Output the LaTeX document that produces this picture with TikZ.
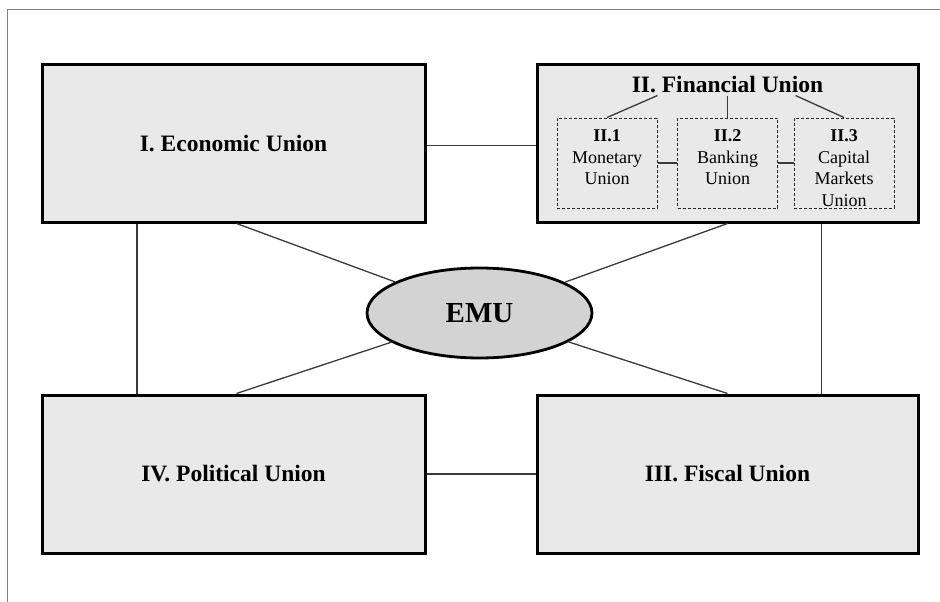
\documentclass[tikz,border=0pt]{standalone}
\usepackage{fontspec}
\setmainfont{Liberation Serif}
\usetikzlibrary{shapes.geometric,calc}
\definecolor{boxfill}{HTML}{E9E9E9}
\definecolor{emufill}{HTML}{D3D3D3}
\definecolor{linkgray}{HTML}{3A3A3A}
\definecolor{framegray}{HTML}{808080}
\begin{document}
\begin{tikzpicture}[x=1pt,y=-1pt,
  unionbox/.style={draw=black, line width=3pt, fill=boxfill,
    minimum width=383pt, minimum height=157pt, inner sep=0pt,
    font=\fontsize{23.5}{28}\selectfont\bfseries},
  subbox/.style={draw=black!85, dash pattern=on 3pt off 2pt, line width=1pt,
    minimum width=100pt, minimum height=90pt, inner sep=0pt},
  subtext/.style={anchor=north, inner sep=0pt, align=center,
    font=\fontsize{18}{21.5}\selectfont},
  link/.style={draw=linkgray, line width=1.3pt},
]
\useasboundingbox (0,0) rectangle (940,602);

% outer frame (top and left edges only)
\draw[framegray, line width=1.3pt] (7.5,602) -- (7.5,9.5) -- (940,9.5);

% the four unions
\node[unionbox] (I) at (233.5,143.5) {I. Economic Union};
\node[unionbox, minimum width=381pt] (II) at (727.5,143.5) {};
\node[unionbox, minimum width=381pt, minimum height=158pt] (III) at (727.5,474) {III. Fiscal Union};
\node[unionbox, minimum height=158pt] (IV) at (233.5,474) {IV. Political Union};

% central ellipse
\node[ellipse, draw=black, line width=2.8pt, fill=emufill,
  minimum width=225pt, minimum height=90pt, inner sep=0pt,
  font=\fontsize{29}{34}\selectfont\bfseries] (EMU) at (479.5,313) {EMU};

% financial union contents
\node[inner sep=0pt, font=\fontsize{23.5}{28}\selectfont\bfseries] (FT) at (727.5,85) {II. Financial Union};
\node[subbox] (S1) at (607,163) {};
\node[subbox] (S2) at (727.5,163) {};
\node[subbox] (S3) at (844,163) {};
\node[subtext] (S1t) at ($(S1.north)+(0,12)$) {\textbf{II.1}\\Monetary\\Union};
\node[subtext] (S2t) at ($(S2.north)+(0,12)$) {\textbf{II.2}\\Banking\\Union};
\node[subtext] (S3t) at ($(S3.north)+(0,12)$) {\textbf{II.3}\\Capital\\Markets\\Union};

\draw[link] ($(FT.south)+(-70,2)$) -- (S1.north);
\draw[link] ($(FT.south)+(0,2)$) -- (S2.north);
\draw[link] ($(FT.south)+(68,2)$) -- (S3.north);
\draw[link] (S1) -- (S2);
\draw[link] (S2) -- (S3);

% links between the unions
\draw[link] ([yshift=-2pt]I.east) -- ([yshift=-2pt]II.west);
\draw[link] (IV) -- (III);
\draw[link] ($(I.south west)!0.25!(I.south east)$) -- ($(IV.north west)!0.25!(IV.north east)$);
\draw[link] ($(II.south west)!0.745!(II.south east)$) -- ($(III.north west)!0.745!(III.north east)$);

% links to the centre
\draw[link] ([xshift=3pt]I.south) -- (EMU);
\draw[link] ([xshift=3pt]IV.north) -- (EMU);
\draw[link] (II.south) -- (EMU);
\draw[link] (III.north) -- (EMU);
\end{tikzpicture}
\end{document}
